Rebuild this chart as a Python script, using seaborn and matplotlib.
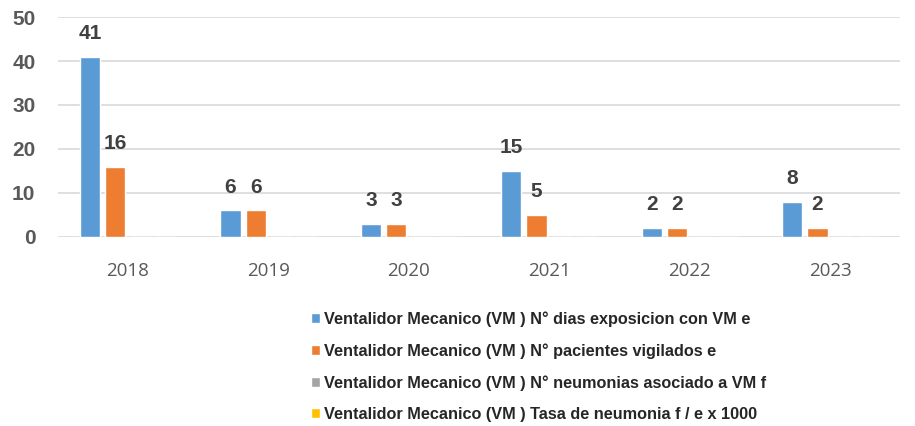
import pandas as pd
import seaborn as sns
import matplotlib.pyplot as plt

years = ['2018', '2019', '2020', '2021', '2022', '2023']
dias_exposicion = [41, 6, 3, 15, 2, 8]
pacientes_vigilados = [16, 6, 3, 5, 2, 2]
neumonias = [0, 0, 0, 0, 0, 0]
tasa_neumonia = [0, 0, 0, 0, 0, 0]

series_names = [
    'Ventalidor Mecanico (VM ) N° dias exposicion con VM e',
    'Ventalidor Mecanico (VM ) N° pacientes vigilados e',
    'Ventalidor Mecanico (VM ) N° neumonias asociado a VM f',
    'Ventalidor Mecanico (VM ) Tasa de neumonia f / e x 1000',
]
colors = ['#5b9bd5', '#ed7d31', '#a5a5a5', '#ffc000']

rows = []
for name, vals in zip(series_names, [dias_exposicion, pacientes_vigilados, neumonias, tasa_neumonia]):
    for y, v in zip(years, vals):
        rows.append({'year': y, 'serie': name, 'value': v})
df = pd.DataFrame(rows)

sns.set_style('white')
plt.rcParams['font.family'] = ['Liberation Sans', 'DejaVu Sans']

fig = plt.figure(figsize=(9.15, 4.26), dpi=100)
ax = fig.add_axes([0.063, 0.444, 0.921, 0.516])

sns.barplot(data=df, x='year', y='value', hue='serie', palette=colors,
            saturation=1, width=0.72, gap=0.2, ax=ax, legend=True)

# labels only for the visible series
for cont in ax.containers[:2]:
    ax.bar_label(cont, labels=[str(int(v)) for v in cont.datavalues],
                 padding=10, fontsize=15, fontweight='bold', color='#404040')

ax.set_ylim(0, 50)
ax.set_yticks(range(0, 51, 10))
ax.grid(axis='y', color='#d9d9d9', linewidth=1.2)
ax.set_axisbelow(True)
for s in ax.spines.values():
    s.set_visible(False)
ax.set_xlabel('')
ax.set_ylabel('')
ax.tick_params(axis='y', length=0, labelsize=15, labelcolor='#595959', pad=16)
ax.tick_params(axis='x', length=0, labelsize=13.5, labelcolor='#595959', pad=18)
for t in ax.get_yticklabels():
    t.set_fontweight('bold')
for t in ax.get_xticklabels():
    t.set_fontfamily(['Open Sans', 'DejaVu Sans'])

handles, labels = ax.get_legend_handles_labels()
ax.legend_.remove()
fig.legend(handles, labels, loc='upper left', bbox_to_anchor=(0.324, 0.303),
           frameon=False, ncol=1, handlelength=0.55, handleheight=0.55,
           handletextpad=0.25, labelspacing=1.0,
           prop={'weight': 'bold', 'size': 11.7})

fig.savefig('out.png', dpi=100)
